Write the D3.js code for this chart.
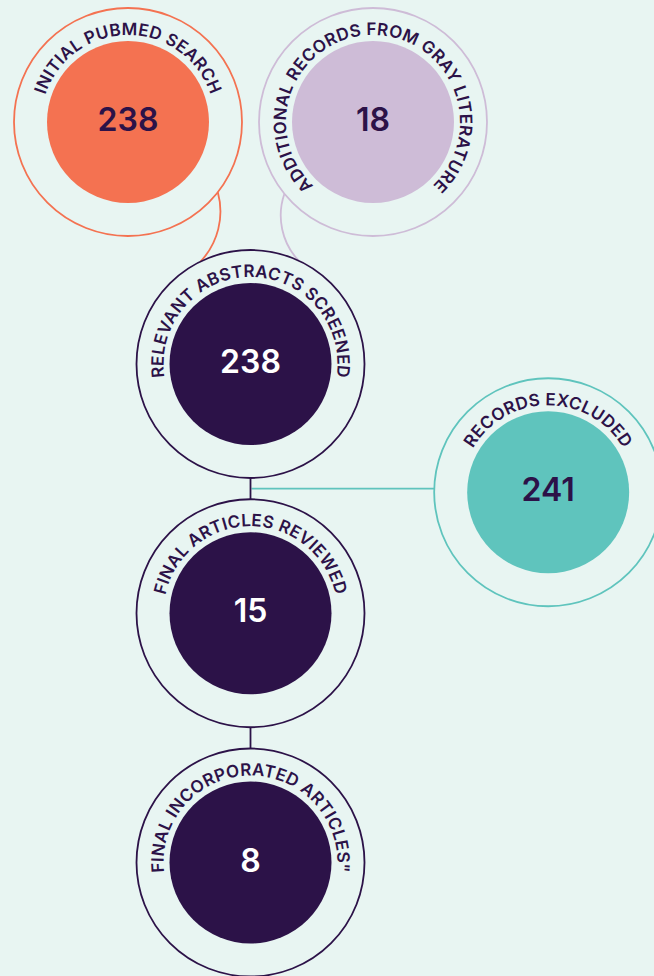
<!DOCTYPE html>
<html>
<head>
<meta charset="utf-8">
<script src="https://cdn.jsdelivr.net/npm/d3@7"></script>
<style>
  html, body { margin: 0; padding: 0; background: #e8f5f2; }
  svg { display: block; }
</style>
</head>
<body>
<div id="chart"></div>
<script>
// data
const labels = ["INITIAL PUBMED SEARCH", "ADDITIONAL RECORDS FROM GRAY LITERATURE",
  "RELEVANT ABSTRACTS SCREENED", "RECORDS EXCLUDED", "FINAL ARTICLES REVIEWED",
  "FINAL INCORPORATED ARTICLES\""]
const values = [238, 18, 238, 241, 15, 8]
const kinds = ["pubmed", "gray", "flow", "excluded", "flow", "flow"]

// layout (column / row of each step)
const cols = [0, 2, 1, 3.43, 1, 1]
const rows = [0, 0, 1, 1.53, 2.03, 3.06]

const width = 654, height = 976
const bg = "#e8f5f2"
const dark = "#2c1248"
const color = d3.scaleOrdinal()
  .domain(["pubmed", "gray", "flow", "excluded"])
  .range(["#f47251", "#cebcd7", dark, "#5fc4bd"])

const x = d3.scaleLinear().domain([0, 1]).range([128, 250.5])
const y = d3.scaleLinear().domain([0, 1]).range([122, 364])
const rOuter = 114, rInner = 81, rText = 87

const nodes = values.map((v, i) => ({
  label: labels[i], value: v, kind: kinds[i],
  cx: x(cols[i]), cy: y(rows[i])
}))

const svg = d3.select("#chart").append("svg")
  .attr("width", width).attr("height", height)

svg.append("rect").attr("width", width).attr("height", height).attr("fill", bg)

const pt = (n, deg) => [n.cx + rOuter * Math.cos(deg * Math.PI / 180), n.cy + rOuter * Math.sin(deg * Math.PI / 180)]

// curved connectors from the two sources into the screening step
const links = svg.append("g").attr("fill", "none").attr("stroke-width", 1.8)
{
  const a = pt(nodes[0], 38), b = pt(nodes[2], -116)
  links.append("path")
    .attr("d", `M${a[0]},${a[1]} A73,73 0 0 1 ${b[0]},${b[1]}`)
    .attr("stroke", color("pubmed"))
  const c = pt(nodes[1], 141), d = pt(nodes[2], -65)
  links.append("path")
    .attr("d", `M${c[0]},${c[1]} A66,66 0 0 0 ${d[0]},${d[1]}`)
    .attr("stroke", color("gray"))
}

// straight connectors
const midY = (nodes[2].cy + rOuter + nodes[4].cy - rOuter) / 2
links.append("line")
  .attr("x1", nodes[2].cx + 1).attr("x2", nodes[3].cx - rOuter)
  .attr("y1", midY).attr("y2", midY)
  .attr("stroke", color("excluded"))
links.append("line")
  .attr("x1", nodes[2].cx).attr("x2", nodes[4].cx)
  .attr("y1", nodes[2].cy + rOuter).attr("y2", nodes[4].cy - rOuter)
  .attr("stroke", dark)
links.append("line")
  .attr("x1", nodes[4].cx).attr("x2", nodes[5].cx)
  .attr("y1", nodes[4].cy + rOuter).attr("y2", nodes[5].cy - rOuter)
  .attr("stroke", dark)

// nodes
const g = svg.selectAll("g.node").data(nodes).join("g")
  .attr("class", "node")
  .attr("transform", d => `translate(${d.cx},${d.cy})`)

g.append("circle").attr("r", rOuter)
  .attr("fill", bg)
  .attr("stroke", d => color(d.kind))
  .attr("stroke-width", 1.8)

g.append("circle").attr("r", rInner)
  .attr("fill", d => color(d.kind))

g.append("path")
  .attr("id", (d, i) => "arc" + i)
  .attr("fill", "none")
  .attr("d", `M0,${rText} A${rText},${rText} 0 1 1 0,${-rText} A${rText},${rText} 0 1 1 0,${rText}`)

g.append("text")
  .attr("font-family", "Inter, 'Open Sans', sans-serif")
  .attr("font-size", 17)
  .attr("font-weight", 600)
  .attr("letter-spacing", 0.3)
  .attr("fill", dark)
  .append("textPath")
    .attr("href", (d, i) => "#arc" + i)
    .attr("startOffset", "50%")
    .attr("text-anchor", "middle")
    .text(d => d.label)

g.append("text")
  .attr("text-anchor", "middle")
  .attr("dy", "0.35em")
  .attr("y", -2)
  .attr("font-family", "Inter, 'Open Sans', sans-serif")
  .attr("font-size", 32)
  .attr("font-weight", 600)
  .attr("fill", d => d.kind === "flow" ? "#ffffff" : dark)
  .text(d => d.value)
</script>
</body>
</html>
